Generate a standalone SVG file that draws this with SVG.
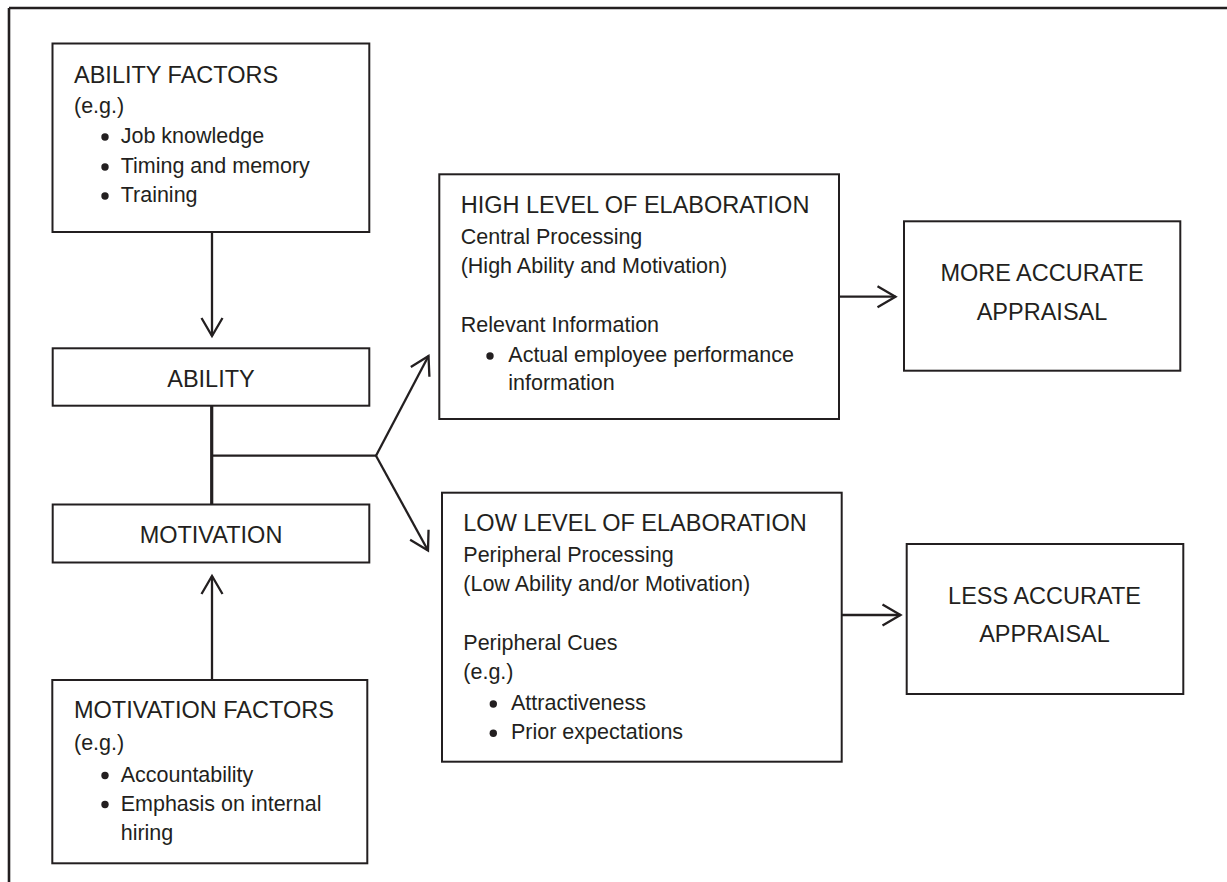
<svg xmlns="http://www.w3.org/2000/svg" width="1227" height="882" viewBox="0 0 1227 882">
<style>
  .box { fill: #ffffff; stroke: #231f20; stroke-width: 2; }
  .t { font-family: "Liberation Sans", Arial, sans-serif; fill: #231f20; }
  .h { font-size: 23.5px; }
  .b { font-size: 21.5px; }
  .c { text-anchor: middle; }
  .dot { fill: #231f20; }
  .ln { fill: none; stroke: #231f20; stroke-width: 2.3; }
</style>
<defs>
  <marker id="arr" markerUnits="userSpaceOnUse" markerWidth="30" markerHeight="30" refX="0" refY="0" orient="auto" overflow="visible">
    <path d="M-18,-10.5 L0,0 L-18,10.5" fill="none" stroke="#231f20" stroke-width="2.3" stroke-linejoin="miter"/>
  </marker>
</defs>
<rect width="1227" height="882" fill="#ffffff"/>
<g id="frame">
  <path d="M9,8 H1227 M9,8 V882" fill="none" stroke="#231f20" stroke-width="2.6"/>
</g>

<g id="connectors">
  <line class="ln" x1="212" y1="232" x2="212" y2="336" marker-end="url(#arr)"/>
  <line class="ln" x1="212" y1="680" x2="212" y2="576" marker-end="url(#arr)"/>
  <line class="ln" x1="211.7" y1="405" x2="211.7" y2="505" style="stroke-width:3.2"/>
  <line class="ln" x1="211.7" y1="455.7" x2="376" y2="455.7"/>
  <line class="ln" x1="376" y1="455.7" x2="428.5" y2="356" marker-end="url(#arr)"/>
  <line class="ln" x1="376" y1="455.7" x2="428" y2="550.5" marker-end="url(#arr)"/>
  <line class="ln" x1="839" y1="296.7" x2="895.5" y2="296.7" marker-end="url(#arr)"/>
  <line class="ln" x1="841.7" y1="615" x2="900.5" y2="615" marker-end="url(#arr)"/>
</g>

<g id="ability-factors">
  <rect class="box" x="52.5" y="43.5" width="316.8" height="188.5"/>
  <text class="t h" x="74" y="83">ABILITY FACTORS</text>
  <text class="t b" x="74" y="113">(e.g.)</text>
  <circle class="dot" cx="105" cy="137" r="3.7"/>
  <text class="t b" x="120.7" y="143">Job knowledge</text>
  <circle class="dot" cx="105" cy="167" r="3.7"/>
  <text class="t b" x="120.7" y="173">Timing and memory</text>
  <circle class="dot" cx="105" cy="196" r="3.7"/>
  <text class="t b" x="120.7" y="202">Training</text>
</g>

<g id="ability">
  <rect class="box" x="52.7" y="348.3" width="316.6" height="57.4"/>
  <text class="t h c" x="211" y="386.5">ABILITY</text>
</g>

<g id="motivation">
  <rect class="box" x="52.7" y="504.5" width="316.6" height="58"/>
  <text class="t h c" x="211" y="543.3">MOTIVATION</text>
</g>

<g id="motivation-factors">
  <rect class="box" x="52.3" y="680" width="315" height="183.3"/>
  <text class="t h" x="74" y="718.3">MOTIVATION FACTORS</text>
  <text class="t b" x="74" y="749.5">(e.g.)</text>
  <circle class="dot" cx="105" cy="775.5" r="3.7"/>
  <text class="t b" x="120.7" y="781.5">Accountability</text>
  <circle class="dot" cx="105" cy="804.5" r="3.7"/>
  <text class="t b" x="120.7" y="810.5">Emphasis on internal</text>
  <text class="t b" x="120.7" y="840">hiring</text>
</g>

<g id="high-elaboration">
  <rect class="box" x="439.3" y="174.3" width="399.7" height="244.7"/>
  <text class="t h" x="460.7" y="212.7">HIGH LEVEL OF ELABORATION</text>
  <text class="t b" x="460.7" y="244">Central Processing</text>
  <text class="t b" x="460.7" y="272.7">(High Ability and Motivation)</text>
  <text class="t b" x="460.7" y="331.7">Relevant Information</text>
  <circle class="dot" cx="490" cy="356" r="3.7"/>
  <text class="t b" x="508.3" y="362.3">Actual employee performance</text>
  <text class="t b" x="508.3" y="390">information</text>
</g>

<g id="low-elaboration">
  <rect class="box" x="442" y="492.7" width="399.7" height="269"/>
  <text class="t h" x="463.3" y="530.7">LOW LEVEL OF ELABORATION</text>
  <text class="t b" x="463.3" y="561.7">Peripheral Processing</text>
  <text class="t b" x="463.3" y="590.7">(Low Ability and/or Motivation)</text>
  <text class="t b" x="463.3" y="650">Peripheral Cues</text>
  <text class="t b" x="463.3" y="679.3">(e.g.)</text>
  <circle class="dot" cx="493.3" cy="704" r="3.7"/>
  <text class="t b" x="511" y="710">Attractiveness</text>
  <circle class="dot" cx="493.3" cy="733.3" r="3.7"/>
  <text class="t b" x="511" y="739.3">Prior expectations</text>
</g>

<g id="more-accurate">
  <rect class="box" x="904" y="221.3" width="276.3" height="149.4"/>
  <text class="t h c" x="1042" y="281">MORE ACCURATE</text>
  <text class="t h c" x="1042" y="320">APPRAISAL</text>
</g>

<g id="less-accurate">
  <rect class="box" x="906.7" y="544" width="276.6" height="150"/>
  <text class="t h c" x="1044.5" y="604">LESS ACCURATE</text>
  <text class="t h c" x="1044.5" y="641.7">APPRAISAL</text>
</g>
</svg>
